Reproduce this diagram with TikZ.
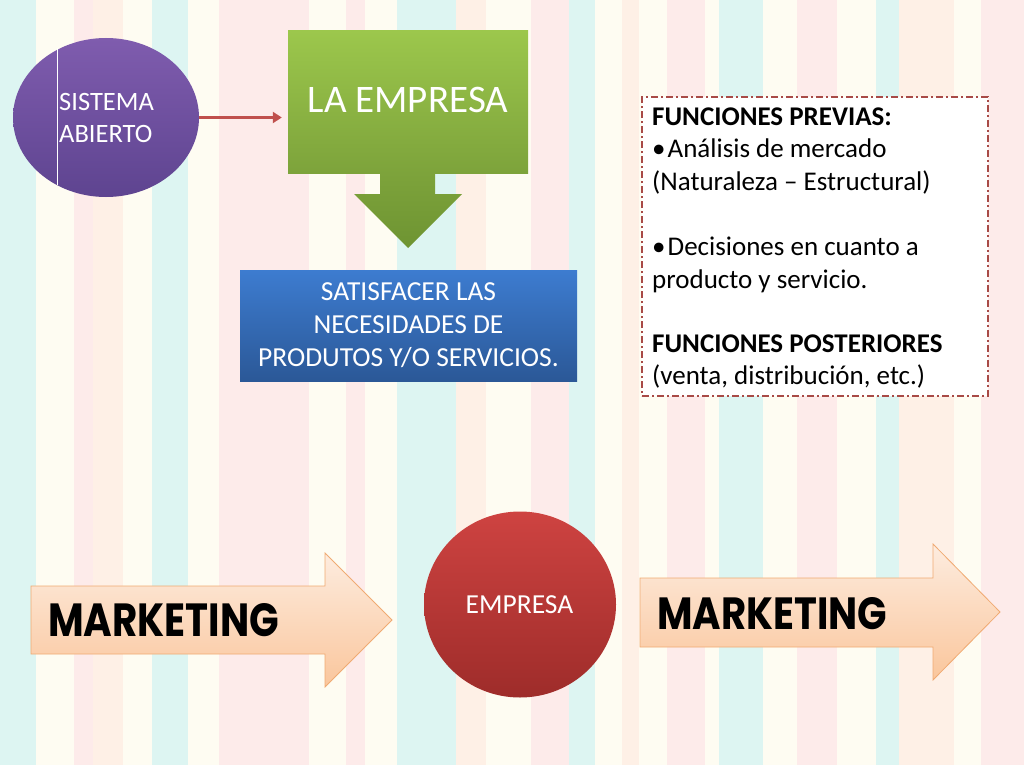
\documentclass[tikz,border=0pt]{standalone}
\usepackage{fontspec}
\setmainfont{Carlito}
\newfontfamily\mkfont{Poppins}
\usetikzlibrary{shapes.geometric,arrows.meta}
\definecolor{cy}{HTML}{DDF5F2}
\definecolor{cr}{HTML}{FEFCF2}
\definecolor{pk}{HTML}{FDEBEA}
\definecolor{pc}{HTML}{FEF0E6}
\definecolor{purtop}{HTML}{7F5CAE}
\definecolor{purbot}{HTML}{5E4490}
\definecolor{grtop}{HTML}{9CC74C}
\definecolor{grbot}{HTML}{7DA33B}
\definecolor{grtip}{HTML}{6E9432}
\definecolor{bltop}{HTML}{3D7CD0}
\definecolor{blbot}{HTML}{2B5897}
\definecolor{rdtop}{HTML}{CE4341}
\definecolor{rdbot}{HTML}{9E2C2A}
\definecolor{arrcol}{HTML}{C0504D}
\definecolor{dashcol}{HTML}{A84A46}
\definecolor{mktop}{HTML}{FDECDF}
\definecolor{mkbot}{HTML}{FAC69C}
\definecolor{mkline}{HTML}{F0AA72}
\begin{document}
\begin{tikzpicture}[x=1pt,y=-1pt,
  wtxt/.style={text=white,inner sep=0pt},
  ftxt/.style={inner sep=0pt,anchor=base west,font=\fontsize{27}{32}\selectfont},
  mkarrow/.style={top color=mktop,bottom color=mkbot,draw=mkline,line width=0.8pt},
  mktext/.style={inner sep=0pt,anchor=base west}]
\useasboundingbox (0,0) rectangle (1024,768);
\fill[white] (0,0) rectangle (1024,768);
\foreach \a/\b/\c in {0/36/cy,36/74/cr,74/93/pk,93/123/pc,123/152/cr,152/188/cy,188/219/cr,219/309/pk,309/346/cr,346/365/pk,365/397/cr,397/456/cy,456/486/pc,486/531/cr,531/569/pk,569/595/cy,595/622/cr,622/639/pc,639/667/cr,667/705/pk,705/719/cr,719/763/cy,763/797/cr,797/837/pk,837/876/cr,876/899/cy,899/954/pc,954/981/cr,981/1024/pk}
  \fill[\c] (\a,0) rectangle (\b,765);

% Sistema abierto
\node (sis) [ellipse,minimum width=186pt,minimum height=159pt,inner sep=0pt,
  top color=purtop,bottom color=purbot] at (106,117.5) {};
\draw[white,line width=1pt] (57,48) -- (57,185);
\node (sistxt) [wtxt,anchor=north west,align=left,font=\fontsize{26.5}{32}\selectfont] at (59,93.3) {SISTEMA\\ABIERTO};

% La empresa
\node (emp) [rectangle,minimum width=240pt,minimum height=142pt,inner sep=0pt,
  top color=grtop,bottom color=grbot] at (408,102) {};
\node (emptxt) [wtxt,anchor=base,font=\fontsize{39}{44}\selectfont] at (408,112) {LA EMPRESA};
\shade[top color=grbot,bottom color=grtip]
  (380,172.5) -- (435,172.5) -- (435,194) -- (462,194) -- (408,248) -- (354,194) -- (380,194) -- cycle;

\draw[arrcol,line width=3pt,-{Triangle[length=9pt,width=11pt]},shorten >=6pt]
  (sis.east) -- (sis.east -| emp.west);

% Satisfacer
\node (sat) [rectangle,minimum width=337pt,minimum height=111pt,inner sep=0pt,
  top color=bltop,bottom color=blbot] at (408.5,325.5) {};
\node (sattxt) [wtxt,anchor=north,align=center,font=\fontsize{27.5}{33}\selectfont] at (408.5,282.3)
  {SATISFACER LAS\\NECESIDADES DE\\PRODUTOS Y/O SERVICIOS.};

% Funciones
\node (fun) [rectangle,draw=dashcol,fill=white,line width=2.6pt,
  dash pattern=on 7pt off 3pt on 2pt off 3pt,
  minimum width=346pt,minimum height=299pt,inner sep=0pt] at (815,246.5) {};
\node (f1) [ftxt] at (652,125) {\textbf{FUNCIONES PREVIAS:}};
\node (f2) [ftxt] at (652,157.5) {•\hspace{2pt}Análisis de mercado};
\node (f3) [ftxt] at (652,190) {(Naturaleza – Estructural)};
\node (f4) [ftxt] at (652,255.5) {•\hspace{2pt}Decisiones en cuanto a};
\node (f5) [ftxt] at (652,288) {producto y servicio.};
\node (f6) [ftxt] at (652,352.5) {\textbf{FUNCIONES POSTERIORES}};
\node (f7) [ftxt] at (652,384.5) {(venta, distribución, etc.)};

% Marketing arrows
\path[mkarrow] (31,586) -- (325,586) -- (325,553) -- (392,620) -- (325,687) -- (325,654) -- (31,654) -- cycle;
\node (mk1) [mktext] at (48,636) {\resizebox{231pt}{33pt}{\mkfont\bfseries MARKETING}};
\path[mkarrow] (640,578) -- (933,578) -- (933,544) -- (1000,612) -- (933,680) -- (933,647) -- (640,647) -- cycle;
\node (mk2) [mktext] at (657,629) {\resizebox{230pt}{32pt}{\mkfont\bfseries MARKETING}};

% Empresa circle
\node (emp2) [ellipse,minimum width=192pt,minimum height=186pt,inner sep=0pt,
  top color=rdtop,bottom color=rdbot] at (520,604.5) {};
\node (emp2txt) [wtxt,anchor=base,font=\fontsize{27.5}{32}\selectfont] at (519.5,613) {EMPRESA};
\end{tikzpicture}
\end{document}
